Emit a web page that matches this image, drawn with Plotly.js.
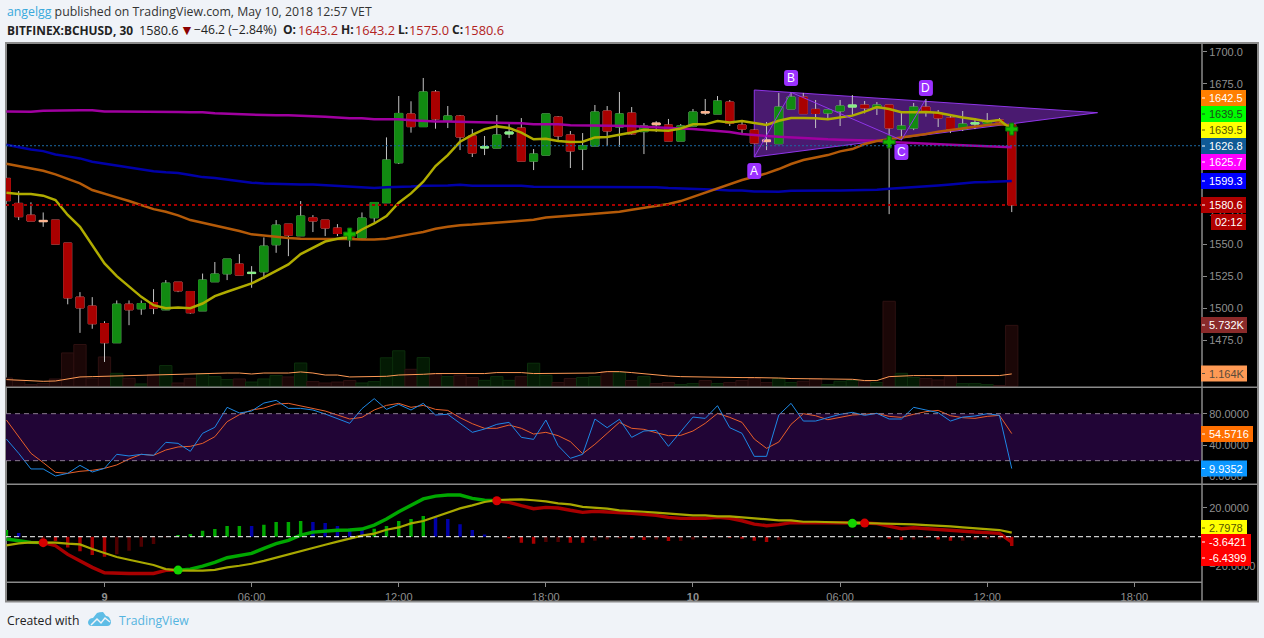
<!DOCTYPE html>
<html><head><meta charset="utf-8">
<script src="https://cdn.plot.ly/plotly-3.0.1.min.js"></script>
<style>html,body{margin:0;padding:0;background:#f0f3f8;overflow:hidden}#c{width:1264px;height:638px}</style>
</head><body><div id="c"></div>
<script>
// bar 0 = 9 May 00:00; one bar = 30 minutes
const firstBar = -8;
const tickBars = [0, 12, 24, 36, 48, 60, 72, 84];
const tickLabels = ['<b>9</b>', '06:00', '12:00', '18:00', '<b>10</b>', '06:00', '12:00', '18:00'];

const opens = [1601.3,1581.8,1572.6,1568.5,1568.75,1550.8,1508.6,1501.6,
 1488,1473,1503.1,1499.5,1504.4,1498.7,1520.3,1513,1497.9,1520.6,
 1526.8,1534.4,1527,1528.4,1549.5,1565.6,1556.5,1570.6,1568.75,1562.5,
 1558.3,1554.7,1570.6,1582.3,1613.5,1651.6,1641.7,1668.75,1646.6,1650,
 1634.4,1625,1625,1636,1640.6,1614.8,1619.5,1649.2,1635.2,1624.2,
 1626.6,1653.9,1641.4,1652.3,1637.8,1644.5,1643,1630.5,1642.2,1653.4,
 1651.6,1660.9,1643,1639,1631.3,1628.4,1655.5,1664.8,1655.2,1652.3,
 1653.9,1657,1658.6,1656.25,1658.6,1639.8,1640.6,1657,1652.3,1648.4,
 1639.8,1643.75,1644.3,1646.9,1643.2];
const highs = [1601.3,1591.4,1582.6,1574.7,1568.75,1550.8,1512.5,1508.6,
 1489.8,1506,1506,1506,1514.8,1521.9,1520.3,1513,1527,1536,
 1538.3,1542.2,1532.8,1555.2,1568.75,1565.6,1583.6,1572.6,1568.75,1565.6,
 1558.3,1574.7,1582.5,1633.3,1665.6,1661.5,1679.7,1670.3,1657.8,1650.8,
 1639.8,1634.4,1650.8,1644.3,1648.4,1624.2,1651.6,1650,1638.3,1636.7,
 1658.6,1657.8,1668.75,1657,1644.5,1646,1647.7,1643.75,1655.5,1663.3,
 1665.6,1662.5,1646.9,1639.8,1645.3,1668,1668.5,1668,1662.5,1654.7,
 1662.5,1666.4,1661.7,1660.9,1658.6,1653,1660.2,1663.3,1654.7,1650.8,
 1653.9,1648.4,1652.3,1648.4,1643.2];
const lows = [1583.9,1568.75,1568,1563.5,1550,1503,1480.7,1483.9,
 1458,1473,1486.7,1494.8,1495.3,1498.7,1512.5,1495.6,1497.9,1520.6,
 1521.9,1525.8,1515.9,1522.9,1543.2,1540.6,1556.5,1559.4,1556.25,1556.25,
 1547.9,1553.6,1566.9,1582.3,1612.5,1637,1641.7,1640.1,1640.6,1623.4,
 1618,1619.5,1625,1632.8,1614.8,1607.8,1619.5,1630.5,1609.4,1607.8,
 1626.6,1626.6,1626,1635.2,1620.3,1637.5,1630.5,1630.5,1642,1650.8,
 1651.6,1642.2,1636,1628.9,1623.4,1628.4,1655.5,1651.8,1640.6,1646.9,
 1642.2,1650.8,1652,1650.8,1573.4,1631.2,1639,1649.5,1641.4,1636.7,
 1638.3,1639.8,1642.2,1643.75,1575];
const closes = [1583.9,1571.4,1568,1567.5,1550,1508,1500.2,1487.8,
 1473,1503.1,1498.7,1503.6,1500,1519.5,1513.5,1496.4,1521.9,1526.6,
 1538.3,1525.8,1528,1548.4,1564.8,1557,1571.9,1568,1562.5,1558.3,
 1553.6,1570.3,1582.5,1615.6,1652,1641.7,1668.75,1647.7,1650,1633.6,
 1621.1,1626,1635.2,1637.5,1614.8,1620.3,1651.6,1634.4,1622.7,1626.8,
 1653.1,1638.3,1651.6,1636,1642.2,1643.2,1630.5,1642.2,1653.1,1652.4,
 1661.7,1644.3,1639.8,1628.9,1630,1657,1664.8,1651.8,1652,1654.7,
 1657.8,1658.6,1656.25,1658.6,1640.6,1642.2,1657,1653.1,1648.4,1639.8,
 1643.75,1644.8,1646,1645.3,1580.6];
const dojiBars = [-5, 12, 31, 33, 45, 49, 54, 61, 71];

const volumesK = [.78,.56,.16,.25,.69,3.14,3.93,.75,
 2.76,1.22,.75,.22,1.10,1.95,.31,.75,1.20,.91,
 .63,.69,.40,.69,1.01,.88,2.19,.44,.31,.40,
 .54,.31,.44,2.68,3.34,1.60,2.70,1.13,.91,1.04,
 .82,.56,.91,.56,.91,2.17,1.04,.35,.73,.82,
 .91,1.38,1.29,.54,.91,.25,.35,.16,.25,.54,
 .25,.35,.54,.73,.35,.73,.35,.47,.73,.16,
 .47,.54,.47,.35,8.0,1.22,.82,.73,.59,.91,
 .25,.25,.16,.07,5.732];
const volumeMA = [.63,.56,.47,.47,.50,.69,.88,.91,
 .94,1.01,1.06,1.06,1.06,1.16,1.16,1.16,1.25,1.25,
 1.25,1.25,1.16,1.25,1.25,1.25,1.35,1.25,1.06,1.06,
 .88,.88,.88,.94,1.06,1.06,1.13,1.20,1.20,1.20,
 1.20,1.20,1.29,1.29,1.29,1.20,1.20,1.20,1.25,1.25,
 1.25,1.38,1.38,1.29,1.16,1.06,.97,.91,.88,.88,
 .82,.82,.82,.82,.82,.78,.73,.73,.73,.66,
 .66,.66,.54,.54,.91,.97,1.01,1.01,1.01,1.01,
 1.01,1.01,1.01,1.01,1.164];

const yellowMA = [1590.1,1589.1,1589.1,1587.8,1584.4,1572.7,1563.5,1549.2,
 1534.9,1525,1516.7,1508.8,1502.3,1500,1500.5,1500,1503.6,1509.4,
 1512.8,1515.9,1519.3,1524,1529.2,1534.1,1542.2,1547.4,1552,1554.2,
 1555.7,1561.4,1566.1,1571.9,1582.3,1589.6,1598.7,1610.9,1619.5,1629.9,
 1635.2,1639.8,1641.9,1640.6,1637,1631.8,1632.3,1630.5,1629.7,1629.9,
 1633.3,1633.6,1635.2,1637.2,1639.3,1638.8,1638.5,1640.3,1643.5,1643.5,
 1646.1,1645,1646.1,1644.5,1643,1646.3,1648.4,1648.4,1648.2,1647.4,
 1648.9,1650.3,1653.4,1657,1655.5,1652.9,1652.9,1653.1,1652.6,1650.5,
 1648.9,1647.4,1645.8,1646.9,1639.5];
const orangeMA = [1612.8,1610.9,1609.6,1607.3,1604.4,1600.8,1597.4,1592.2,
 1589.6,1586.5,1583.6,1580.5,1577.3,1575.3,1572.4,1568.75,1566.7,1564.6,
 1562.2,1560.2,1557.6,1556.5,1555.7,1554.7,1554.2,1554.2,1554.2,1554.2,
 1553.9,1553.6,1553.6,1554.2,1556.25,1557.8,1559.4,1562,1563.5,1564.8,
 1565.3,1565.9,1566.7,1567.5,1568.3,1569,1570.8,1571.4,1572.4,1572.9,
 1573.7,1574.5,1575.3,1576.8,1578.1,1579.7,1581.25,1583.6,1587,1590.1,
 1593.5,1597.1,1600,1602.6,1605.2,1608.6,1612.5,1615.6,1617.7,1619.5,
 1622.4,1624.2,1628.1,1630.5,1631.8,1633.1,1634.4,1635.9,1637.8,1639.1,
 1640.6,1641.9,1643,1643.75,1642.5];
const blueMA = [1627.6,1625.5,1623.9,1622.6,1620,1618.5,1616.9,1614.3,
 1612.8,1610.9,1609.6,1608.3,1606.8,1606,1605.5,1603.9,1602.3,1601.6,
 1600.5,1599.5,1597.9,1597.4,1597.1,1596.6,1596.6,1596.6,1596.1,1595.8,
 1595.3,1594.5,1593.75,1594.3,1594.5,1595,1595.6,1595.6,1595.8,1596.4,
 1595.6,1595.6,1595.6,1595.6,1595.6,1594.8,1594.8,1594.8,1594.3,1594.3,
 1594.3,1594.3,1594.3,1594.3,1594.3,1594.3,1593.75,1593.5,1593,1593,
 1592.45,1591.9,1591.9,1591.15,1590.9,1590.9,1591.7,1591.9,1591.9,1591.9,
 1591.9,1591.9,1592.45,1592.45,1593.2,1593.75,1594.5,1595.3,1595.8,1596.6,
 1597.4,1598.2,1598.4,1598.95,1599.3];
const magentaMA = [1653.6,1653.4,1653.4,1654.2,1654.4,1654.4,1654.4,1654.4,
 1653.6,1653.6,1653.6,1653.6,1653.6,1653.6,1653.1,1652.9,1652.9,1652.1,
 1651.8,1651.3,1651.3,1650.5,1650.5,1650.5,1650.3,1649.7,1649.5,1648.9,
 1648.2,1648.2,1647.4,1647.4,1647.4,1646.6,1646.1,1645.8,1645.8,1645.6,
 1645,1645,1645,1644.3,1644.3,1643.5,1643.5,1643.5,1642.7,1642.7,
 1642.7,1642.4,1642.2,1642.2,1641.7,1641.4,1640.6,1640.3,1639.8,1639,
 1638.5,1637.5,1635.9,1634.9,1634.4,1633.9,1633.3,1632.6,1632,1631.8,
 1631.5,1631.25,1631,1630.7,1629.7,1629.2,1628.65,1628.4,1628.1,1627.6,
 1627.1,1626.8,1626.3,1625.8,1625.7];

const lastPrice = 1580.6;
const lastBasePrice = 1626.8;

// harmonic pattern: A, B, C, D and the wedge
const wedgeBars = [53, 53, 81];
const wedgePrices = [1618, 1670.3, 1652.6];
const abcdBars = [53, 56, 65, 67];
const abcdPrices = [1618, 1668.5, 1631.2, 1663.3];
const abcdLetters = ['A', 'B', 'C', 'D'];
const abcdLabelPrices = [1607, 1679.7, 1621.9, 1671.9];
const crossBars = [20, 64, 74];
const crossPrices = [1557.8, 1629.7, 1639.8];

const rsiFast = [47.6,29.4,9.4,9.4,.4,3.8,14,5.5,
 10.2,28.1,26,28.1,26.8,43.4,42.1,31.9,54.9,62.6,
 88.1,80.9,83.4,93.6,97,86.8,86.8,84.7,79.6,74,
 67.7,86.4,99.2,85.5,91.9,84.7,93.2,78.3,79.2,67.7,
 56.2,60.4,66.4,68.9,49.8,47.2,71.9,39.2,23,28.1,
 73.2,62.1,72.8,49.8,57.9,58.7,38.3,57,75.7,74,
 90.2,62.1,54.9,25.5,25.5,78.3,93.2,70.6,70.6,74.9,
 79.2,81.7,77.9,80.4,73.2,73.2,88.1,84.7,81.3,70.6,
 75.7,77,80,77.9,9.9352];
const rsiSlow = [71.9,50.6,29.4,17.5,5.1,3.8,6.4,7.7,
 10.2,14.5,22.1,28.1,26.8,33.6,37.5,38.3,42.1,50.6,
 69.8,78.7,84.7,87.2,92.3,93.2,90.2,86.8,83.4,78.3,
 73.2,75.3,84.7,90.6,93.2,88.1,90.6,85.5,84.2,74.9,
 67.2,61.3,61.3,65.5,61.3,54,56.2,51.9,44.3,28.9,
 40.9,54.9,68.9,61.3,60,55.7,51.9,52.3,57.9,67.7,
 80.4,75.3,68.9,47.6,35.7,43.8,66.4,80,77.4,72.3,
 74.9,78.3,79.2,80.4,76.6,75.3,79.2,82.6,84.2,77.4,
 74.9,74,76.6,77.9,54.5716];
const rsiBandHigh = 80, rsiBandLow = 20;

const macdLine = [-1.6,-2.8,-3.9,-4.1,-6.2,-12.2,-16.8,-21.1,
 -24.8,-25.3,-25.3,-25.3,-25.3,-23.2,-23,-22.3,-20.2,-17.7,
 -14.5,-12.9,-11.5,-8,-4.8,-2.5,1.1,3.2,3.9,4.4,
 4.6,5.3,8,12.2,17.2,21.4,26,28,28.7,28.7,
 26.4,25.1,24.8,23.7,21.4,19.3,20.2,19.8,18.2,16.8,
 17.5,17.2,16.8,16.1,15.4,14.7,13.3,12.6,12.6,12.6,
 13.3,12.6,11,8.7,7.6,8.3,9.7,9.7,9.2,9.2,
 9.2,9.2,9.4,9,7.4,5.5,6.2,5.5,4.8,4.1,
 3.7,3.2,2.8,2.3,-3.6421];
const macdSignal = [-6,-4.6,-3.9,-3.9,-4.1,-4.8,-5.3,-8.5,
 -11.5,-14,-15.9,-17.7,-19.5,-22.3,-23.2,-23.4,-23.4,-22.8,
 -21.1,-20,-18.6,-16.6,-14.3,-12.4,-10.1,-7.4,-5.5,-3.4,
 -1.1,.7,2.1,4.8,6.4,9.2,10.8,13.8,16.8,19.5,
 21.6,23.9,25.3,25.7,25.7,25.1,24.4,23,22.3,20.5,
 20,19.3,18.2,17.9,17.2,16.6,15.9,15.2,14.7,14.7,
 14,14,13.3,12.6,12,11.3,11.3,10.3,10.3,10.1,
 9.9,9.4,9.2,9.2,9.2,8.7,8.5,8,7.8,7.1,
 6.4,5.7,5.1,4.6,2.7978];
const macdHist = [4.6,2.5,0,-.5,-3,-7.5,-10,-12.6,
 -13.8,-12,-9.7,-7,-5,-.3,1.1,1.8,4.1,5.3,
 7.4,7.4,7.3,8.3,10.1,10.1,10.8,10.1,9.4,7.4,
 5.7,5.3,5.4,7.4,10.8,12.2,14.3,13.6,12.2,8.5,
 4.6,1.6,.1,-1.1,-4.1,-4.8,-3.7,-3.7,-4.1,-4.2,
 -2.8,-2,-1.1,-1.4,-2.3,-2,-3,-3,-2,-.9,
 -.2,-.7,-1.4,-2.8,-3.7,-2.3,-.2,-.2,-.2,-.1,
 -.1,.1,-.2,-.2,-1.4,-2.3,-2,-.9,-2,-2.8,
 -2.8,-2,-1.8,-1.7,-6.4399];
const crossUpBars = [6, 61];
const crossDownBars = [-5, 32, 62];
const priceTicks = [1700,1675,1650,1625,1600,1575,1550,1525,1500,1475];
const rsiTicks = [80, 40, 0];
const macdTicks = [20, -20];

// ---------- layout constants (pixels of the 1264x638 page)
const W = 1264, H = 638;
const px = v => v / W, py = v => 1 - v / H;
const plotL = 6, plotR = 1202, frameR = 1258, topY = 43, mainB = 387.3, rsiB = 484.3, macdB = 582.3, frameB = 601.5;
const barX0 = 104.5, barPx = 12.26;
const xAt = p => (p - barX0) / barPx;
const bars = opens.map((_, i) => firstBar + i);
const sel = (arr, keep) => arr.filter((_, i) => keep(i));
const isDoji = i => dojiBars.includes(bars[i]);
const GREEN = '#118a11', RED = '#a90000', WICK = '#c4c4c4';
const tickFont = {family: 'Liberation Sans, Arial, sans-serif', size: 11, color: '#8f8f8f'};

const traces = [];
// volume, underneath, on the base y axis
traces.push({type: 'bar', x: bars, y: volumesK, xaxis: 'x', yaxis: 'y', width: 1,
  marker: {color: bars.map((_, i) => closes[i] >= opens[i] ? '#041a04' : '#1b0707'),
           line: {color: bars.map((_, i) => closes[i] >= opens[i] ? '#0c2e0c' : '#2e1111'), width: 1}}});
traces.push({type: 'scatter', mode: 'lines', x: bars, y: volumeMA, xaxis: 'x', yaxis: 'y', line: {color: '#ff9a55', width: 1}});
// wicks
traces.push({type: 'candlestick', x: bars, open: opens, high: highs, low: lows, close: closes, xaxis: 'x', yaxis: 'y2', whiskerwidth: 0,
  increasing: {line: {color: WICK, width: 1}, fillcolor: 'rgba(0,0,0,0)'},
  decreasing: {line: {color: WICK, width: 1}, fillcolor: 'rgba(0,0,0,0)'}});
// bodies
const bodyKeep = i => !isDoji(i);
const bo = sel(opens, bodyKeep), bc = sel(closes, bodyKeep);
traces.push({type: 'candlestick', x: sel(bars, bodyKeep), open: bo, close: bc,
  high: bo.map((o, i) => Math.max(o, bc[i])), low: bo.map((o, i) => Math.min(o, bc[i])), xaxis: 'x', yaxis: 'y2', whiskerwidth: 0,
  increasing: {line: {color: GREEN, width: 1}, fillcolor: GREEN},
  decreasing: {line: {color: RED, width: 1}, fillcolor: RED}});
// doji bodies
const dOpen = sel(opens, isDoji), dClose = sel(closes, isDoji);
traces.push({type: 'candlestick', x: sel(bars, isDoji), open: dOpen, close: dClose,
  high: dOpen.map((o, i) => Math.max(o, dClose[i])), low: dOpen.map((o, i) => Math.min(o, dClose[i])), xaxis: 'x', yaxis: 'y2', whiskerwidth: 0,
  increasing: {line: {color: '#86ef86', width: 1}, fillcolor: '#86ef86'},
  decreasing: {line: {color: '#ffb48e', width: 1}, fillcolor: '#ffb48e'}});
// moving averages
[[magentaMA, '#a000a0'], [blueMA, '#0000a8'], [orangeMA, '#b45a08'], [yellowMA, '#b0ac00']].forEach(([ys, c]) =>
  traces.push({type: 'scatter', mode: 'lines', x: bars, y: ys, xaxis: 'x', yaxis: 'y2', line: {color: c, width: 2.5}}));
traces.push({type: 'scatter', mode: 'markers', x: crossBars, y: crossPrices, xaxis: 'x', yaxis: 'y2',
  marker: {symbol: 'cross', size: 10, color: '#16b800', line: {color: '#0b6f0b', width: 1}}});
// thin wedge legs
traces.push({type: 'scatter', mode: 'lines', x: abcdBars, y: abcdPrices, xaxis: 'x', yaxis: 'y2', line: {color: '#8f35e8', width: 1}});
// RSI pane
traces.push({type: 'scatter', mode: 'lines', x: bars, y: rsiSlow, xaxis: 'x', yaxis: 'y3', line: {color: '#e8602a', width: 1}});
traces.push({type: 'scatter', mode: 'lines', x: bars, y: rsiFast, xaxis: 'x', yaxis: 'y3', line: {color: '#1e88e5', width: 1}});
// MACD pane
traces.push({type: 'bar', x: bars, y: macdHist, xaxis: 'x', yaxis: 'y4', width: 0.28,
  marker: {line: {width: 0}, color: macdHist.map((v, i) => {
    const prev = i ? macdHist[i - 1] : v;
    return v >= 0 ? (v >= prev ? '#00a800' : '#0000a8') : (v < prev ? '#a90000' : '#4e0000');
  })}});
// MACD line: green above its signal, red below, switching at each cross
const crossings = [...crossUpBars.map(b => [b, true]), ...crossDownBars.map(b => [b, false])].sort((a, b) => a[0] - b[0]);
const isUp = b => { let s = true; for (const [c, up] of crossings) { if (b >= c) s = up; } return s; };
const segment = want => macdLine.map((v, i) => (isUp(bars[i]) === want || (i > 0 && isUp(bars[i - 1]) === want)) ? v : null);
traces.push({type: 'scatter', mode: 'lines', x: bars, y: segment(false), xaxis: 'x', yaxis: 'y4', line: {color: '#a90000', width: 3.4}, connectgaps: false});
traces.push({type: 'scatter', mode: 'lines', x: bars, y: segment(true), xaxis: 'x', yaxis: 'y4', line: {color: '#00a800', width: 3.4}, connectgaps: false});
traces.push({type: 'scatter', mode: 'lines', x: bars, y: macdSignal, xaxis: 'x', yaxis: 'y4', line: {color: '#a8a800', width: 2.2}});
const macdAt = b => macdLine[bars.indexOf(b)];
traces.push({type: 'scatter', mode: 'markers', x: crossUpBars, y: crossUpBars.map(macdAt), xaxis: 'x', yaxis: 'y4', marker: {size: 9, color: '#13d400'}});
traces.push({type: 'scatter', mode: 'markers', x: crossDownBars, y: crossDownBars.map(macdAt), xaxis: 'x', yaxis: 'y4', marker: {size: 9, color: '#d80000'}});

// ---------- shapes
const shapes = [];
const pLine = (x0, y0, x1, y1, color, width, dash) => shapes.push({type: 'line', xref: 'paper', yref: 'paper', x0: px(x0), x1: px(x1), y0: py(y0), y1: py(y1), line: {color, width, dash: dash || 'solid'}, layer: 'above'});
shapes.push({type: 'rect', xref: 'paper', yref: 'paper', x0: px(plotL), x1: px(frameR), y0: py(topY), y1: py(frameB), fillcolor: '#000', line: {color: '#8a8a8a', width: 2}, layer: 'below'});
shapes.push({type: 'path', xref: 'x', yref: 'y2', layer: 'below',
  path: 'M' + wedgeBars.map((b, i) => b + ',' + wedgePrices[i]).join(' L') + ' Z', fillcolor: '#4a1a70', line: {color: '#8f35e8', width: 1}});
shapes.push({type: 'rect', xref: 'paper', yref: 'y3', x0: px(plotL), x1: px(plotR), y0: rsiBandLow, y1: rsiBandHigh, fillcolor: '#210536', line: {width: 0}, layer: 'below'});
[rsiBandHigh, rsiBandLow].forEach(v => shapes.push({type: 'line', xref: 'paper', yref: 'y3', x0: px(plotL), x1: px(plotR), y0: v, y1: v, layer: 'above', line: {color: '#8a7a90', width: 1, dash: '5px,4px'}}));
shapes.push({type: 'line', xref: 'paper', yref: 'y4', x0: px(plotL), x1: px(plotR), y0: 0, y1: 0, layer: 'above', line: {color: '#ffffff', width: 1, dash: '5px,3px'}});
shapes.push({type: 'line', xref: 'paper', yref: 'y2', x0: px(plotL), x1: px(plotR), y0: lastPrice, y1: lastPrice, layer: 'above', line: {color: '#a80000', width: 2, dash: '3px,3px'}});
shapes.push({type: 'line', xref: 'paper', yref: 'y2', x0: px(plotL), x1: px(plotR), y0: lastBasePrice, y1: lastBasePrice, layer: 'above', line: {color: '#1b6aa5', width: 1, dash: '2px,2px'}});
pLine(plotL, mainB, frameR, mainB, '#8a8a8a', 1.5);
pLine(plotL, rsiB, frameR, rsiB, '#8a8a8a', 1.5);
pLine(plotL, macdB, plotR, macdB, '#8a8a8a', 1.5);
pLine(plotR, topY, plotR, frameB, '#8a8a8a', 1.5);

// rounded ABCD badges
const rr = 'M-4,8 L4,8 Q7,8 7,5 L7,-5 Q7,-8 4,-8 L-4,-8 Q-7,-8 -7,-5 L-7,5 Q-7,8 -4,8 Z';
abcdBars.forEach((b, i) => shapes.push({type: 'path', xref: 'x', yref: 'y2', xsizemode: 'pixel', ysizemode: 'pixel', xanchor: b, yanchor: abcdLabelPrices[i], path: rr, fillcolor: '#9b30ff', line: {width: 0}, layer: 'above'}));

// TradingView cloud
const toPaper = s => s.replace(/(-?[\d.]+),(-?[\d.]+)/g, (_, a, b) => px(+a) + ',' + py(+b));
shapes.push({type: 'path', xref: 'paper', yref: 'paper', layer: 'above', fillcolor: '#5ebde6', line: {width: 0},
  path: toPaper('M88,622 Q89,618 93,618 L97,613 Q99,612 103,612 L106,616 Q109,616 110,619 Q112,622 110,625 Q109,626 107,626 L92,626 Q88,626 88,622 Z')});
shapes.push({type: 'path', xref: 'paper', yref: 'paper', layer: 'above', line: {color: '#f0f3f8', width: 1.5},
  path: toPaper('M91,625 L97,619 L101,623 L105,618 L110,622')});

// ---------- price tags on the right edge
const tags = [
 ['1642.5', 98, '#ff7f00', '#fff', 1246], ['1639.5', 114, '#00ff00', '#1c4a1c', 1246], ['1639.5', 130, '#ffff00', '#555500', 1246],
 ['1626.8', 146, '#0f5a96', '#fff', 1246], ['1625.7', 162, '#ff00ff', '#fff', 1246], ['1599.3', 181, '#0000ff', '#fff', 1246],
 ['1580.6', 205, '#b00000', '#fff', 1246], ['02:12', 222, '#b00000', '#fff', 1246, 1211],
 ['5.732K', 325, '#8a2a2a', '#fff', 1247], ['1.164K', 373.5, '#ff9a55', '#5a4a3a', 1247],
 ['54.5716', 434, '#ff6f00', '#fff', 1253], ['9.9352', 468.5, '#0a96ff', '#fff', 1247],
 ['2.7978', 528, '#ffff00', '#555500', 1247], ['-3.6421', 542, '#ff0000', '#fff', 1251], ['-6.4399', 558, '#ff0000', '#fff', 1251]
];
const annotations = [];
tags.forEach(([t, y, bg, fg, r, l]) => {
  const left = l || 1201;
  shapes.push({type: 'rect', xref: 'paper', yref: 'paper', x0: px(left), x1: px(r), y0: py(y - 8), y1: py(y + 8), fillcolor: bg, line: {width: 0}, layer: 'above'});
  if (!l) pLine(1202, y, 1205, y, fg, 1);
  annotations.push({xref: 'paper', yref: 'paper', x: px(l ? l + 3 : 1207.5), y: py(y), xanchor: 'left', yanchor: 'middle', showarrow: false, text: t,
    font: {family: 'Liberation Sans, Arial, sans-serif', size: 11, color: fg}, borderpad: 0});
});
abcdBars.forEach((b, i) => annotations.push({xref: 'x', yref: 'y2', x: b, y: abcdLabelPrices[i], showarrow: false, text: abcdLetters[i], xanchor: 'center', yanchor: 'middle',
  font: {family: 'Liberation Sans, Arial, sans-serif', size: 12, color: '#fff'}}));

// ---------- heading and footer text
const headFont = 'Open Sans, Noto Sans, sans-serif';
const note = (x, y, text, size, color) => annotations.push({xref: 'paper', yref: 'paper', x: px(x), y: py(y), xanchor: 'left', yanchor: 'middle', showarrow: false, text, borderpad: 0,
  font: {family: headFont, size, color}});
const RED_TEXT = '#b22222', DARK = '#222222';
note(5.5, 11, '<span style="color:#39a9dc">angelgg</span> published on TradingView.com, May 10, 2018 12:57 VET', 12.3, '#333333');
note(5.5, 29.5, '<b>BITFINEX:BCHUSD, 30</b>', 11.9, DARK);
note(137.5, 29.5, '1580.6', 12.7, DARK);
note(179, 29.5, '▼', 14, '#8b0000');
note(193, 29.5, '−46.2 (−2.84%)', 12.2, DARK);
[[282, 'O:', 297, '1643.2'], [339.5, 'H:', 353.5, '1643.2'], [396.5, 'L:', 407.5, '1575.0'], [450.5, 'C:', 462.5, '1580.6']].forEach(([x1, k, x2, v]) => {
  note(x1, 29.5, '<b>' + k + '</b>', 12, DARK);
  note(x2, 29.5, v, 12.8, RED_TEXT);
});
note(5.5, 620, 'Created with', 12.2, DARK);
note(117.5, 620, 'TradingView', 12.2, '#54b4e0');

const yCommon = {side: 'right', anchor: 'x', showgrid: false, zeroline: false, showline: false, ticks: 'outside', ticklen: 4, tickwidth: 1, tickcolor: '#8a8a8a', tickfont: tickFont, fixedrange: true, tickmode: 'array'};
const layout = {
  width: W, height: H, margin: {l: 0, r: 0, t: 0, b: 0, pad: 0}, paper_bgcolor: '#f0f3f8', plot_bgcolor: 'rgba(0,0,0,0)',
  showlegend: false, hovermode: false, barmode: 'overlay', boxmode: 'overlay', boxgap: 0.07, shapes, annotations,
  xaxis: {domain: [px(plotL), px(plotR)], range: [xAt(plotL), xAt(plotR)], anchor: 'y4', type: 'linear', showgrid: false, zeroline: false, showline: false,
    tickmode: 'array', tickvals: tickBars, ticktext: tickLabels, ticks: 'outside', ticklen: 4, tickcolor: '#8a8a8a', tickfont: tickFont, rangeslider: {visible: false}, fixedrange: true},
  yaxis: {domain: [py(mainB), py(topY)], range: [-0.094, 32.3], anchor: 'x', visible: false, fixedrange: true},
  yaxis2: Object.assign({}, yCommon, {overlaying: 'y', range: [1438.2, 1707], tickvals: priceTicks, tickformat: '.1f'}),
  yaxis3: Object.assign({}, yCommon, {domain: [py(rsiB), py(mainB)], range: [-10.2, 113.7], tickvals: rsiTicks, tickformat: '.4f'}),
  yaxis4: Object.assign({}, yCommon, {domain: [py(macdB), py(rsiB)], range: [-31.4, 36.1], tickvals: macdTicks, tickformat: '.4f'})
};
Plotly.newPlot('c', traces, layout, {displayModeBar: false, staticPlot: true});
</script></body></html>
